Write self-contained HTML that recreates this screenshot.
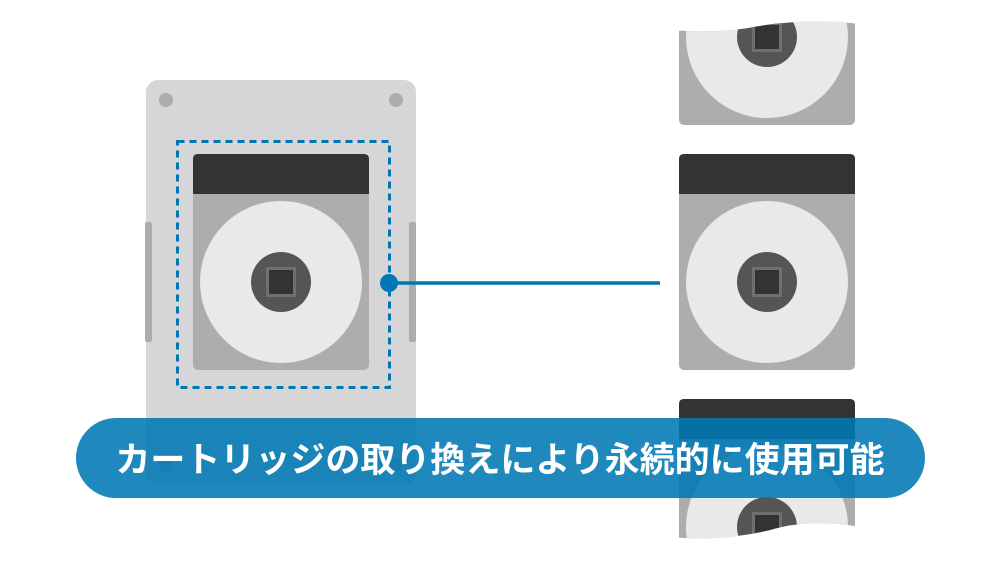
<!DOCTYPE html>
<html><head><meta charset="utf-8"><style>
html,body{margin:0;padding:0;background:#fff;width:1000px;height:565px;overflow:hidden}
svg{display:block}
</style></head><body>
<svg width="1000" height="565" viewBox="0 0 1000 565" xmlns="http://www.w3.org/2000/svg">
<defs>
<g id="cart">
<rect x="0" y="0" width="176" height="216" rx="5" fill="#adadad"/>
<path d="M0 5 Q0 0 5 0 H171 Q176 0 176 5 V40 H0 Z" fill="#333"/>
<circle cx="88" cy="128" r="81" fill="#e9e9e9"/>
<circle cx="88" cy="128" r="30" fill="#555"/>
<rect x="74.5" y="114.5" width="27" height="27" fill="#333" stroke="#6f6f6f" stroke-width="3"/>
</g>
<clipPath id="ctop"><path d="M670 30 Q720 34 760 26 Q810 18 860 24 V130 H670 Z"/></clipPath>
<clipPath id="cbot"><path d="M670 390 H860 V527 Q810 518 770 530 Q720 542 670 537 Z"/></clipPath>
</defs>
<rect x="146" y="80" width="270" height="405" rx="12" fill="#d6d6d6"/>
<rect x="145" y="222" width="7" height="120" rx="2" fill="#adadad"/>
<rect x="409" y="222" width="7" height="120" rx="2" fill="#adadad"/>
<circle cx="166" cy="100" r="7" fill="#adadad"/>
<circle cx="396" cy="100" r="7" fill="#adadad"/>
<circle cx="166" cy="465" r="7" fill="#adadad"/>
<circle cx="396" cy="465" r="7" fill="#adadad"/>
<rect x="177.5" y="141.5" width="212" height="246" fill="none" stroke="#0077b4" stroke-width="3" stroke-dasharray="7,5"/>
<use href="#cart" x="193" y="154"/>
<line x1="389" y1="283" x2="660" y2="283" stroke="#0077b4" stroke-width="3.5"/>
<circle cx="389" cy="283" r="9" fill="#0077b4"/>
<g clip-path="url(#ctop)"><use href="#cart" x="679" y="-91"/></g>
<use href="#cart" x="679" y="154"/>
<g clip-path="url(#cbot)"><use href="#cart" x="679" y="399"/></g>
<rect x="76" y="418" width="849" height="80" rx="40" fill="#0077b4" fill-opacity="0.88"/>
<text x="500" y="472" text-anchor="middle" font-family="'Liberation Sans','Noto Sans CJK JP',sans-serif" font-size="35" font-weight="bold" fill="#fff">カートリッジの取り換えにより永続的に使用可能</text>
</svg>
</body></html>
